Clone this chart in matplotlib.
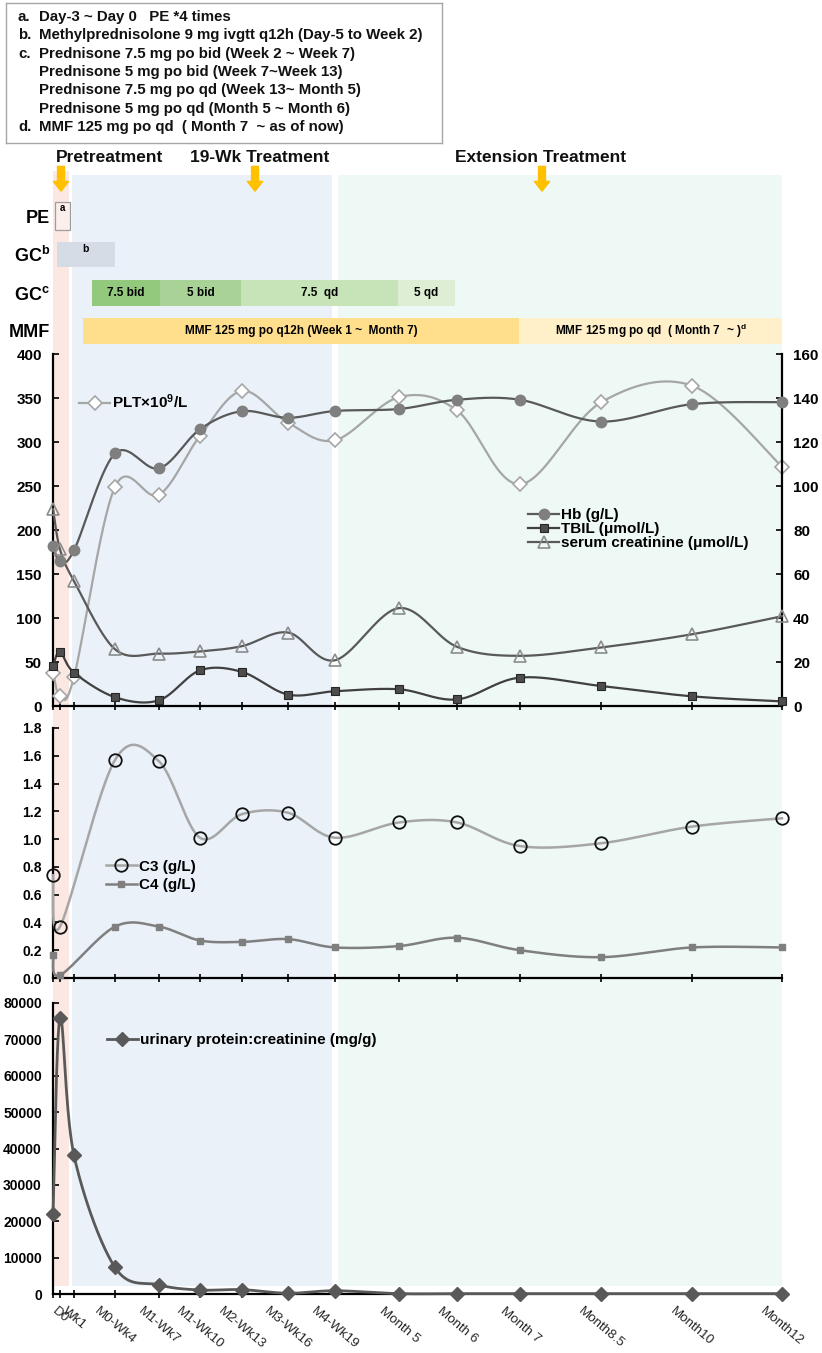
import numpy as np
import matplotlib
matplotlib.use('Agg')
import matplotlib.pyplot as plt
from matplotlib.lines import Line2D

plt.rcParams['font.family'] = ['Liberation Sans', 'DejaVu Sans']
plt.rcParams['font.weight'] = 'bold'
plt.rcParams['mathtext.fontset'] = 'custom'
plt.rcParams['mathtext.rm'] = 'Liberation Sans:bold'
plt.rcParams['mathtext.it'] = 'Liberation Sans:bold'
plt.rcParams['mathtext.bf'] = 'Liberation Sans:bold'
plt.rcParams['mathtext.default'] = 'rm'

# time points (position on the time line)
x_labels = ['', 'D0', 'Wk1', 'M0-Wk4', 'M1-Wk7', 'M1-Wk10', 'M2-Wk13', 'M3-Wk16',
            'M4-Wk19', 'Month 5', 'Month 6', 'Month 7', 'Month8.5', 'Month10', 'Month12']
x_pos = [0, 7, 21, 62, 106, 147, 189, 235, 282, 346, 404, 467, 548, 639, 729]

# top panel
plt_vals = [38, 11, 33, 249, 240, 307, 358, 322, 302, 351, 336, 252, 345, 364, 272]
hb = [72.7, 65.8, 70.8, 114.8, 108, 125.8, 134, 131, 134.1, 135, 139.2, 139.2, 129.3, 137.2, 138.1]
tbil = [18.4, 24.6, 15.2, 4, 2.6, 16.2, 15.5, 5.2, 6.7, 7.6, 3.0, 12.9, 9.1, 4.4, 2.1]
scr = [89.6, 71.2, 56.8, 25.8, 23.8, 24.8, 27.2, 33.4, 20.8, 44.5, 26.9, 22.8, 26.6, 32.6, 40.8]

# middle panel (no value at Wk1)
c3 = [0.74, 0.37, np.nan, 1.57, 1.56, 1.01, 1.18, 1.19, 1.01, 1.12, 1.12, 0.95, 0.97, 1.09, 1.15]
c4 = [0.165, 0.02, np.nan, 0.37, 0.37, 0.27, 0.26, 0.28, 0.22, 0.23, 0.29, 0.20, 0.15, 0.22, 0.22]

# bottom panel
upcr = [22000, 76000, 38100, 7300, 2500, 1100, 1200, 200, 900, 100, 100, 100, 100, 100, 100]

# treatment periods (start, end on the same time line)
phase_start = [0, 19, 285]
phase_end = [16, 279, 729]
phase_colors = ['#FBE8E3', '#EAF1F9', '#EEF8F5']

titles = ['Pretreatment', '19-Wk Treatment', 'Extension Treatment']
title_x = [57, 207, 488]
arrow_x = [8, 202, 489]

pe_span = (2, 17)
gcb_span = (4, 62)
gcc_labels = ['7.5 bid', '5 bid', '7.5  qd', '5 qd']
gcc_start = [39, 107, 188, 345]
gcc_end = [107, 188, 345, 402]
gcc_colors = ['#93C97C', '#A9D396', '#C7E3B8', '#DDEED4']
mmf_labels = ['MMF 125 mg po q12h (Week 1 ~  Month 7)', 'MMF 125 mg po qd  ( Month 7  ~ )$^{d}$']
mmf_start = [30, 466]
mmf_end = [466, 729]
mmf_colors = ['#FFDF8C', '#FFF0C9']

row_labels = ['PE', 'GC$^{b}$', 'GC$^{c}$', 'MMF']

note_letters = ['a.', 'b.', 'c.', '', '', '', 'd.']
note_lines = ['Day-3 ~ Day 0   PE *4 times',
              'Methylprednisolone 9 mg ivgtt q12h (Day-5 to Week 2)',
              'Prednisone 7.5 mg po bid (Week 2 ~ Week 7)',
              'Prednisone 5 mg po bid (Week 7~Week 13)',
              'Prednisone 7.5 mg po qd (Week 13~ Month 5)',
              'Prednisone 5 mg po qd (Month 5 ~ Month 6)',
              'MMF 125 mg po qd  ( Month 7  ~ as of now)']


def smooth(xs, ys, yscale, n=40):
    # Excel style smoothed line (bezier through the points, screen space)
    xs = np.asarray(xs, float)
    ys = np.asarray(ys, float)
    ok = ~np.isnan(ys)
    P = np.column_stack([xs[ok], ys[ok] * yscale])
    out = []
    for i in range(len(P) - 1):
        p0 = P[i - 1] if i > 0 else P[i]
        p1 = P[i]
        p2 = P[i + 1]
        p3 = P[i + 2] if i + 2 < len(P) else P[i + 1]
        c1 = p1 + (p2 - p0) / 6
        c2 = p2 - (p3 - p1) / 6
        t = np.linspace(0, 1, n)[:, None]
        out.append((1 - t) ** 3 * p1 + 3 * (1 - t) ** 2 * t * c1 + 3 * (1 - t) * t ** 2 * c2 + t ** 3 * p2)
    s = np.vstack(out)
    return s[:, 0], s[:, 1] / yscale


def series(ax, ys, yscale, color, lw, label, **mk):
    sx, sy = smooth(x_pos, ys, yscale)
    ax.plot(sx, sy, color=color, lw=lw, clip_on=False, zorder=3)
    ys = np.asarray(ys, float)
    ok = ~np.isnan(ys)
    ax.plot(np.array(x_pos)[ok], ys[ok], ls='none', clip_on=False, zorder=4, **mk)
    # handle for the legend: line + marker
    return Line2D([], [], color=color, lw=lw, label=label, **mk)


W, H = 822, 1353
fig = plt.figure(figsize=(W / 100, H / 100), dpi=100)
L = 53 / W
AW = 729 / W
XMAX = 729


def fy(top, bottom):
    return [L, 1 - bottom / H, AW, (bottom - top) / H]


# background bands
ax_bg = fig.add_axes(fy(171, 1288))
ax_bg.set_zorder(0)
ax_bg.set_xlim(0, XMAX)
ax_bg.set_ylim(0, 1)
ax_bg.axis('off')
for s, e, c in zip(phase_start, phase_end, phase_colors):
    top = 1 if s == 0 else 0.9964
    ax_bg.axvspan(s, e, ymin=0.002, ymax=top, color=c, lw=0)

# header titles + arrows
ax_h = fig.add_axes(fy(140, 195))
ax_h.set_zorder(5)
ax_h.set_xlim(0, XMAX)
ax_h.set_ylim(0, 1)
ax_h.axis('off')
for t, tx in zip(titles, title_x):
    ax_h.text(tx, 0.673, t, ha='center', va='center', fontsize=12.5, color='#111111')
for ax_x in arrow_x:
    ax_h.annotate('', xy=(ax_x, 0.07), xytext=(ax_x, 0.52),
                  arrowprops=dict(arrowstyle='simple,head_width=1.1,head_length=0.7,tail_width=0.5',
                                  color='#FFC000', shrinkA=0, shrinkB=0, mutation_scale=10))

# treatment time line
tl = fig.add_axes(fy(197, 350))
tl.set_zorder(1)
tl.patch.set_visible(False)
tl.set_xlim(0, XMAX)
tl.set_ylim(3.5, -0.5)
for sp in tl.spines.values():
    sp.set_visible(False)
tl.set_xticks([])
tl.set_yticks(range(4))
tl.set_yticklabels(row_labels, fontsize=13)
tl.tick_params(axis='y', length=0, pad=2)
tl.barh(0, pe_span[1] - pe_span[0], left=pe_span[0], height=0.72,
        color='#FBEFEC', edgecolor='#9E9E9E', lw=0.9)
tl.text(sum(pe_span) / 2, -0.2, 'a', ha='center', va='center', fontsize=7)
tl.barh(1, gcb_span[1] - gcb_span[0], left=gcb_span[0], height=0.65, color='#D6DCE5', lw=0)
tl.text(32, 0.85, 'b', ha='center', va='center', fontsize=7.5)
for lab, s, e, c in zip(gcc_labels, gcc_start, gcc_end, gcc_colors):
    tl.barh(2, e - s, left=s, height=0.68, color=c, lw=0)
    tl.text((s + e) / 2, 2, lab, ha='center', va='center', fontsize=8.5)
for lab, s, e, c in zip(mmf_labels, mmf_start, mmf_end, mmf_colors):
    tl.barh(3, e - s, left=s, height=0.68, color=c, lw=0)
    tl.text((s + e) / 2, 3, lab, ha='center', va='center', fontsize=8.5)


def style(ax, labels=False):
    ax.set_xlim(0, XMAX)
    ax.patch.set_visible(False)
    ax.spines['top'].set_visible(False)
    ax.spines['right'].set_visible(False)
    for sp in ax.spines.values():
        sp.set_linewidth(1.6)
    ax.set_xticks(x_pos)
    if labels:
        ax.set_xticklabels(x_labels, rotation=-40, ha='center', fontsize=9.6,
                           fontweight='normal', color='#262626')
    else:
        ax.set_xticklabels([])
    ax.tick_params(axis='x', direction='inout', length=6, width=1.2, pad=5)
    ax.tick_params(axis='y', direction='in', length=4, width=1.2, pad=8)


leg_kw = dict(loc='center left', frameon=False, fontsize=11, handlelength=2.0,
              handletextpad=0.15, borderpad=0, borderaxespad=0)

# top panel
ax1 = fig.add_axes(fy(354, 706))
ax1.set_zorder(2)
style(ax1)
ax1.set_ylim(0, 400)
ax1.set_yticks(range(0, 401, 50))
ax1.tick_params(axis='y', labelsize=11)
ax1r = ax1.twinx()
ax1r.set_zorder(2.1)
ax1r.patch.set_visible(False)
ax1r.set_ylim(0, 160)
ax1r.set_yticks(range(0, 161, 20))
for k in ['top', 'left', 'bottom']:
    ax1r.spines[k].set_visible(False)
ax1r.spines['right'].set_linewidth(1.6)
ax1r.tick_params(axis='y', direction='in', length=4, width=1.2, pad=8, labelsize=11)

ys1 = 352 / 400
ys1r = 352 / 160
h_plt = series(ax1, plt_vals, ys1, '#A6A6A6', 1.6, 'PLT×10$^{9}$/L',
               marker='D', ms=7.5, mfc='white', mec='#A6A6A6', mew=1.2)
h_hb = series(ax1r, hb, ys1r, '#595959', 1.6, 'Hb (g/L)',
              marker='o', ms=7.5, mfc='#7F7F7F', mec='#7F7F7F')
h_tb = series(ax1r, tbil, ys1r, '#404040', 1.6, 'TBIL (μmol/L)',
              marker='s', ms=6, mfc='#4D4D4D', mec='#262626', mew=0.8)
h_cr = series(ax1r, scr, ys1r, '#595959', 1.6, 'serum creatinine (μmol/L)',
              marker='^', ms=8.5, mfc='none', mec='#8C8C8C', mew=1.2)
ax1.legend(handles=[h_plt], bbox_to_anchor=(0.036, 0.864), **leg_kw)
ax1r.legend(handles=[h_hb, h_tb, h_cr], bbox_to_anchor=(0.652, 0.503),
            labelspacing=0.0, **leg_kw)

# middle panel
ax2 = fig.add_axes(fy(728, 978))
ax2.set_zorder(2)
style(ax2)
ax2.set_ylim(0, 1.8)
ax2.set_yticks(np.arange(0, 1.81, 0.2))
ax2.set_yticklabels(['%.1f' % v for v in np.arange(0, 1.81, 0.2)], fontsize=10)
ys2 = 250 / 1.8
h_c3 = series(ax2, c3, ys2, '#A6A6A6', 1.8, 'C3 (g/L)',
              marker='o', ms=9, mfc='none', mec='#111111', mew=1.3)
h_c4 = series(ax2, c4, ys2, '#7F7F7F', 1.8, 'C4 (g/L)',
              marker='s', ms=4.5, mfc='#7F7F7F', mec='#7F7F7F')
ax2.legend(handles=[h_c3, h_c4], bbox_to_anchor=(0.073, 0.408), labelspacing=0.3, **leg_kw)

# bottom panel
ax3 = fig.add_axes(fy(1003, 1294))
ax3.set_zorder(2)
style(ax3, labels=True)
ax3.set_ylim(0, 80000)
ax3.set_yticks(range(0, 80001, 10000))
ax3.tick_params(axis='y', labelsize=10)
ys3 = 291 / 80000
h_up = series(ax3, upcr, ys3, '#595959', 2.0, 'urinary protein:creatinine (mg/g)',
              marker='D', ms=7, mfc='#595959', mec='#595959')
ax3.legend(handles=[h_up], bbox_to_anchor=(0.074, 0.873), **leg_kw)

# note box at the top
axn = fig.add_axes([6 / W, 1 - 143 / H, 436 / W, 140 / H])
axn.set_xticks([])
axn.set_yticks([])
for sp in axn.spines.values():
    sp.set_color('#A6A6A6')
    sp.set_linewidth(1)
for i, (lt, ln) in enumerate(zip(note_letters, note_lines)):
    yy = 0.9 - i * 0.131
    axn.text(0.0275, yy, lt, ha='left', va='center', fontsize=10.8, color='#111111')
    axn.text(0.0757, yy, ln, ha='left', va='center', fontsize=10.8, color='#111111')

fig.savefig('out.png', dpi=100)
